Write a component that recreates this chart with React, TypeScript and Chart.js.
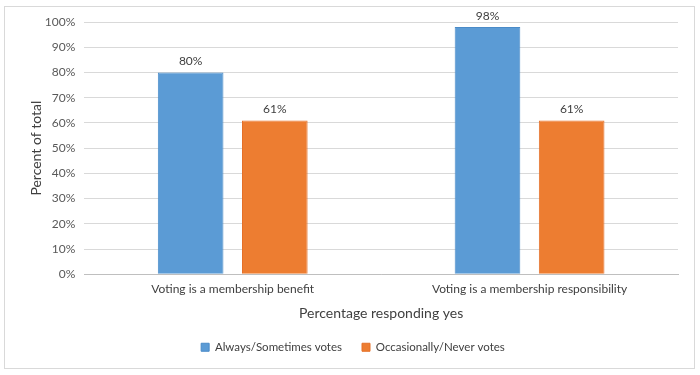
import React, { useEffect, useRef } from "react";
import { Chart, registerables } from "chart.js";

Chart.register(...registerables);

const categories = ["Voting is a membership benefit", "Voting is a membership responsibility"];
const seriesNames = ["Always/Sometimes votes", "Occasionally/Never votes"];
const alwaysValues = [80, 98];
const occasionallyValues = [61, 61];
const seriesColors = ["#5B9BD5", "#ED7D31"];

const FONT = "Lato, 'Open Sans', sans-serif";

const valueLabels = {
  id: "valueLabels",
  afterDatasetsDraw(chart: any) {
    const ctx = chart.ctx;
    ctx.save();
    ctx.font = `12px ${FONT}`;
    ctx.fillStyle = "#404040";
    ctx.textAlign = "center";
    ctx.textBaseline = "bottom";
    chart.data.datasets.forEach((ds: any, i: number) => {
      const meta = chart.getDatasetMeta(i);
      meta.data.forEach((bar: any, j: number) => {
        ctx.fillText(ds.data[j] + "%", bar.x, bar.y - 5);
      });
    });
    ctx.restore();
  },
};

const frame = {
  id: "frame",
  beforeDraw(chart: any) {
    const ctx = chart.ctx;
    ctx.save();
    ctx.fillStyle = "#ffffff";
    ctx.fillRect(0, 0, chart.width, chart.height);
    ctx.strokeStyle = "#d9d9d9";
    ctx.lineWidth = 1;
    ctx.strokeRect(4.5, 6.5, 690, 362);
    ctx.restore();
  },
};

export default function App() {
  const ref = useRef<HTMLCanvasElement>(null);
  useEffect(() => {
    if (!ref.current) return;
    const chart = new Chart(ref.current, {
      type: "bar",
      data: {
        labels: categories,
        datasets: [
          {
            label: seriesNames[0],
            data: alwaysValues,
            backgroundColor: seriesColors[0],
            borderColor: "#4A8BC8",
            borderWidth: 1,
          },
          {
            label: seriesNames[1],
            data: occasionallyValues,
            backgroundColor: seriesColors[1],
            borderColor: "#E57028",
            borderWidth: 1,
          },
        ],
      },
      options: {
        responsive: false,
        animation: false,
        maintainAspectRatio: false,
        layout: { padding: { left: 28, right: 22, top: 22, bottom: 12 } },
        datasets: {
          bar: { categoryPercentage: 0.567, barPercentage: 0.78 },
        } as any,
        scales: {
          x: {
            grid: { display: false },
            border: { color: "#bfbfbf" },
            ticks: { color: "#404040", font: { family: FONT, size: 12 }, padding: 0 },
            title: {
              display: true,
              text: "Percentage responding yes",
              color: "#404040",
              font: { family: FONT, size: 14 },
              padding: { top: 8, bottom: 0 },
            },
          },
          y: {
            min: 0,
            max: 100,
            ticks: {
              stepSize: 10,
              color: "#595959",
              font: { family: FONT, size: 12 },
              padding: 9,
              callback: (v: any) => v + "%",
            },
            grid: { color: "#d9d9d9", drawTicks: false },
            border: { display: false },
            title: {
              display: true,
              text: "Percent of total",
              color: "#404040",
              font: { family: FONT, size: 14 },
              padding: { top: 0, bottom: -9 },
            },
          },
        },
        plugins: {
          legend: {
            position: "bottom",
            labels: {
              boxWidth: 8,
              boxHeight: 8,
              color: "#404040",
              font: { family: FONT, size: 11.5 },
              padding: 20,
            },
          },
          tooltip: { enabled: false },
        },
      },
      plugins: [frame, valueLabels],
    });
    return () => chart.destroy();
  }, []);
  return (
    <div style={{ position: "fixed", left: 0, top: 0, width: 700, height: 375 }}>
      <canvas ref={ref} width={700} height={375} style={{ display: "block" }} />
    </div>
  );
}
